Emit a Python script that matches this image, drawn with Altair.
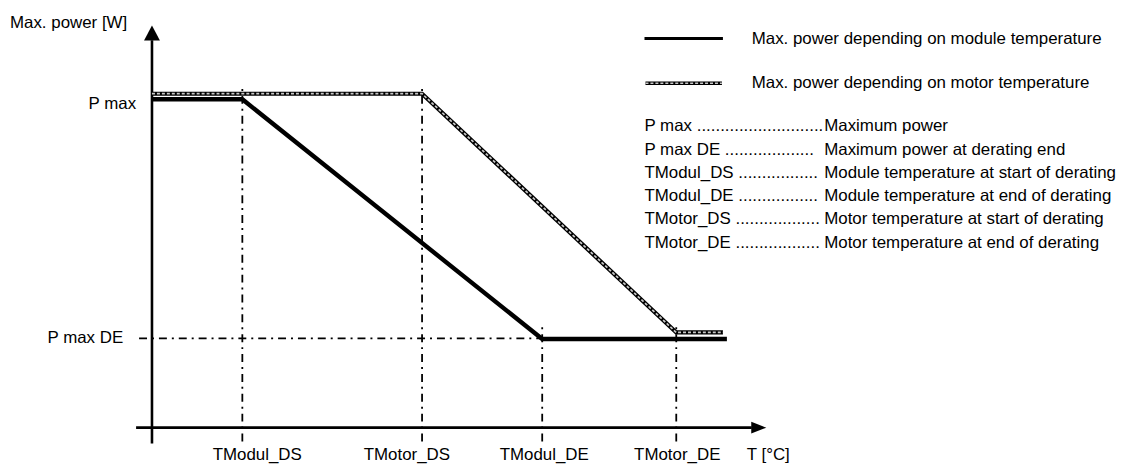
import altair as alt
import pandas as pd

FONT = "Liberation Sans, Arial, sans-serif"
FS = 17

# ---- data (temperature units along x, power units along y) ----
module_t = [0, 91, 393, 579]
module_p = [100, 100, 27, 27]
motor_t = [0, 272, 528, 575]
motor_p = [101.7, 101.7, 29, 29]

ref_names = ["TModul_DS", "TMotor_DS", "TModul_DE", "TMotor_DE"]
ref_t = [91, 272, 393, 528]
ref_top = [104.6, 104.6, 32, 32]
ref_bottom = [-4.2, -4.2, -4.2, -4.2]
tick_label_t = [106, 256.7, 395, 529]

p_levels = ["P max", "P max DE"]
p_values = [100, 27.2]
p_label_t = [-16, -29]

legend_items = ["Max. power depending on module temperature",
                "Max. power depending on motor temperature"]
legend_p = [118.5, 104.9]

row_labels = ["P max " + "." * 27,
              "P max DE " + "." * 19,
              "TModul_DS " + "." * 17,
              "TModul_DE " + "." * 17,
              "TMotor_DS " + "." * 18,
              "TMotor_DE " + "." * 18]
row_desc = ["Maximum power",
            "Maximum power at derating end",
            "Module temperature at start of derating",
            "Module temperature at end of derating",
            "Motor temperature at start of derating",
            "Motor temperature at end of derating"]
row_p = [91.8, 84.7, 77.6, 70.5, 63.4, 56.3]

X_DOMAIN = [-145, 991]
Y_DOMAIN = [-11.79, 127.31]

xs = alt.Scale(domain=X_DOMAIN, nice=False, zero=False)
ys = alt.Scale(domain=Y_DOMAIN, nice=False, zero=False)


def X(f):
    return alt.X(f, type="quantitative", scale=xs, axis=None)


def Y(f):
    return alt.Y(f, type="quantitative", scale=ys, axis=None)


DASHDOT = [8, 5, 2, 5]

# reference vertical dash-dot lines
vref = alt.Chart(pd.DataFrame({"t": ref_t, "top": ref_top, "bot": ref_bottom})).mark_rule(
    color="black", strokeWidth=1.8, strokeDash=DASHDOT
).encode(x=X("t"), y=Y("bot"), y2="top")

# horizontal P max DE dash-dot line
href = alt.Chart(pd.DataFrame({"t1": [-13], "t2": [393], "p": [p_values[1]]})).mark_rule(
    color="black", strokeWidth=1.8, strokeDash=DASHDOT
).encode(x=X("t1"), x2="t2", y=Y("p"))

# axes
yaxis = alt.Chart(pd.DataFrame({"t": [0], "p1": [-4.8], "p2": [118]})).mark_rule(
    color="black", strokeWidth=2.6
).encode(x=X("t"), y=Y("p1"), y2="p2")
xaxis = alt.Chart(pd.DataFrame({"t1": [-16], "t2": [604], "p": [0]})).mark_rule(
    color="black", strokeWidth=2.6
).encode(x=X("t1"), x2="t2", y=Y("p"))

yarrow = alt.Chart(pd.DataFrame({"t": [0], "p": [120.05]})).mark_point(
    shape="M0,-1L1,0.9L-1,0.9Z", filled=True, color="black", size=256, opacity=1, strokeWidth=0
).encode(x=X("t"), y=Y("p"))
xarrow = alt.Chart(pd.DataFrame({"t": [610.7], "p": [0]})).mark_point(
    shape="M1,0L-0.9,0.75L-0.9,-0.75Z", filled=True, color="black", size=256, opacity=1, strokeWidth=0
).encode(x=X("t"), y=Y("p"))

# curves
mod_df = pd.DataFrame({"t": module_t, "p": module_p, "o": range(len(module_t))})
mot_df = pd.DataFrame({"t": motor_t, "p": motor_p, "o": range(len(motor_t))})

motor_outer = alt.Chart(mot_df).mark_line(color="black", strokeWidth=4.2).encode(
    x=X("t"), y=Y("p"), order="o")
motor_inner = alt.Chart(mot_df).mark_line(color="#c8c8c8", strokeWidth=1.7, strokeDash=[3, 2]).encode(
    x=X("t"), y=Y("p"), order="o")
module_line = alt.Chart(mod_df).mark_line(color="black", strokeWidth=4.4).encode(
    x=X("t"), y=Y("p"), order="o")

# legend symbols
leg_solid = alt.Chart(pd.DataFrame({"t1": [496], "t2": [575], "p": [legend_p[0]]})).mark_rule(
    color="black", strokeWidth=3
).encode(x=X("t1"), x2="t2", y=Y("p"))
leg_wavy_o = alt.Chart(pd.DataFrame({"t1": [497], "t2": [574], "p": [legend_p[1]]})).mark_rule(
    color="black", strokeWidth=3.6
).encode(x=X("t1"), x2="t2", y=Y("p"))
leg_wavy_i = alt.Chart(pd.DataFrame({"t1": [497], "t2": [574], "p": [legend_p[1]]})).mark_rule(
    color="#c8c8c8", strokeWidth=1.4, strokeDash=[3, 2]
).encode(x=X("t1"), x2="t2", y=Y("p"))


def txt(df, align):
    return alt.Chart(df).mark_text(
        align=align, baseline="middle", font=FONT, fontSize=FS, color="black"
    ).encode(x=X("t"), y=Y("p"), text="s:N")


title_txt = txt(pd.DataFrame({"t": [-143], "p": [123.1], "s": ["Max. power [W]"]}), "left")
plevel_txt = txt(pd.DataFrame({"t": p_label_t, "p": [98.5, 27.2], "s": p_levels}), "right")
xtick_txt = txt(pd.DataFrame({"t": tick_label_t, "p": [-8.2] * 4, "s": ref_names}), "center")
xunit_txt = txt(pd.DataFrame({"t": [599], "p": [-8.2], "s": ["T [°C]"]}), "left")
leg_txt = txt(pd.DataFrame({"t": [604, 604], "p": legend_p, "s": legend_items}), "left")
row_lab_txt = txt(pd.DataFrame({"t": [496] * 6, "p": row_p, "s": row_labels}), "left")
row_desc_txt = txt(pd.DataFrame({"t": [677] * 6, "p": row_p, "s": row_desc}), "left")

chart = alt.layer(
    vref, href, yaxis, xaxis, yarrow, xarrow,
    motor_outer, motor_inner, module_line,
    leg_solid, leg_wavy_o, leg_wavy_i,
    title_txt, plevel_txt, xtick_txt, xunit_txt, leg_txt, row_lab_txt, row_desc_txt,
).properties(
    width=1136, height=460, autosize="none", padding=0, background="white"
).configure_view(stroke=None)

chart.save("out.html", embed_options={"renderer": "svg", "actions": False})
